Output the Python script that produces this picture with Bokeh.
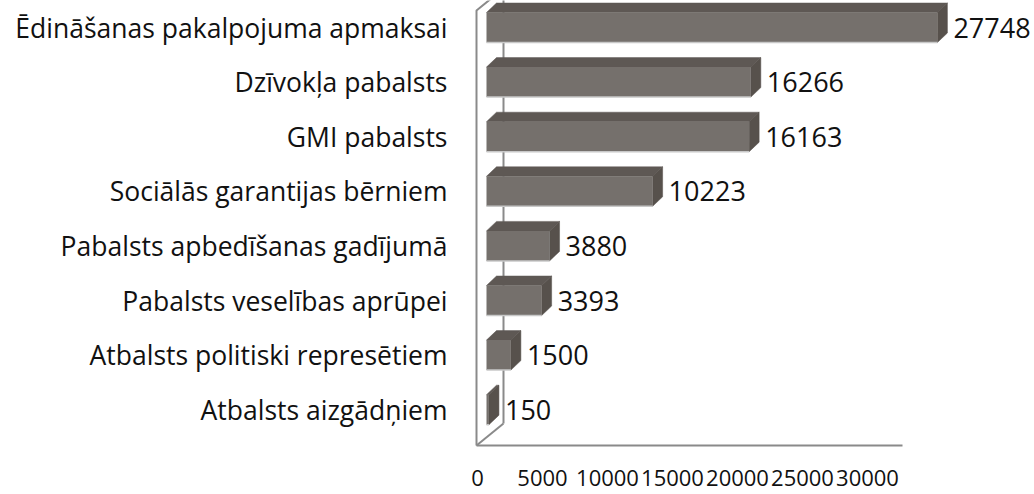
from bokeh.plotting import figure
from bokeh.models import Range1d, LinearAxis, FixedTicker, ColumnDataSource
from bokeh.core.properties import value
from bokeh.embed import file_html
from bokeh.resources import INLINE

# ---------------- data ----------------
categories = [
    "Ēdināšanas pakalpojuma apmaksai",
    "Dzīvokļa pabalsts",
    "GMI pabalsts",
    "Sociālās garantijas bērniem",
    "Pabalsts apbedīšanas gadījumā",
    "Pabalsts veselības aprūpei",
    "Atbalsts politiski represētiem",
    "Atbalsts aizgādņiem",
]
amounts = [27748, 16266, 16163, 10223, 3880, 3393, 1500, 150]
x_ticks = [0, 5000, 10000, 15000, 20000, 25000, 30000]

# ---------------- layout (figure pixels) ----------------
W, H = 1034, 494
FL, FR, FT, FB = 473, 1034, 0, 459          # frame edges
X_ZERO, PX_PER_UNIT = 486, 0.01625           # bar scale
T_ZERO, T_PX_PER_UNIT = 477, 390 / 30000     # tick-label scale (3-D projection)
ROW0, ROW_STEP = 27, 54.6                    # row centres
n = len(categories)

x_start = -(X_ZERO - FL) / PX_PER_UNIT
x_end = x_start + (FR - FL) / PX_PER_UNIT
t_start = -(T_ZERO - FL) / T_PX_PER_UNIT
t_end = t_start + (FR - FL) / T_PX_PER_UNIT
y_start = (n - 1) - (FB - ROW0) / ROW_STEP
y_end = (n - 1) + (ROW0 - FT) / ROW_STEP


def px_x(px):
    return x_start + (px - FL) / PX_PER_UNIT


def px_y(py):
    return (n - 1) - (py - ROW0) / ROW_STEP


p = figure(width=W, height=H, output_backend="svg", toolbar_location=None,
           x_range=Range1d(x_start, x_end), y_range=Range1d(y_start, y_end),
           x_axis_location=None, min_border_left=FL, min_border_right=0,
           min_border_top=FT, min_border_bottom=H - FB)
p.outline_line_color = None
p.grid.visible = False
p.background_fill_color = "white"
p.border_fill_color = "white"

# ---------------- 3-D walls ----------------
wall = "#8a8a8a"
fx, bx = px_x(476), px_x(503)
floor_y, back_floor_y = px_y(445), px_y(423)
top_y, back_top_y = px_y(10), px_y(-12)
p.line([bx, bx], [back_floor_y, back_top_y], line_color=wall, line_width=2)
p.line([fx, bx], [floor_y, back_floor_y], line_color=wall, line_width=2)
p.line([fx, fx, bx], [floor_y, top_y, back_top_y], line_color=wall, line_width=2)
p.line([fx, px_x(902)], [floor_y, floor_y], line_color=wall, line_width=2)

# ---------------- 3-D bars ----------------
rows = [n - 1 - i for i in range(n)]
h = 15 / ROW_STEP
dx = 10 / PX_PER_UNIT
dy = 9.5 / ROW_STEP

top_xs = [[0, v, v + dx, dx] for v in amounts]
top_ys = [[r + h, r + h, r + h + dy, r + h + dy] for r in rows]
side_xs = [[v, v + dx, v + dx, v] for v in amounts]
side_ys = [[r - h, r - h + dy, r + h + dy, r + h] for r in rows]

p.patches(top_xs, top_ys, fill_color="#5e5854", line_color="#5e5854", line_width=0.5)
p.patches(side_xs, side_ys, fill_color="#57514c", line_color="#57514c", line_width=0.5)
src = ColumnDataSource(dict(row=rows, amount=amounts, zero=[0] * n,
                            bot=[r - h for r in rows], top=[r + h for r in rows],
                            lab=[str(v) for v in amounts],
                            lx=[v + dx for v in amounts]))
p.quad(left="zero", right="amount", bottom="bot", top="top",
       source=src, fill_color="#75706c", line_color=None)
p.segment(x0="zero", x1="amount", y0="bot", y1="bot",
          source=src, line_color="#c8c8c8", line_width=1.5)

p.text(x="lx", y="row", text="lab", source=src, x_offset=6,
       text_align="left", text_baseline="middle",
       text_font=value("Open Sans"), text_font_size="27px", text_color="#111111")

# ---------------- axes ----------------
yax = p.yaxis[0]
yax.ticker = FixedTicker(ticks=rows)
yax.major_label_overrides = {r: c for r, c in zip(rows, categories)}
yax.axis_line_color = None
yax.major_tick_line_color = None
yax.minor_tick_line_color = None
yax.major_tick_out = 0
yax.major_tick_in = 0
yax.major_label_standoff = 26
yax.major_label_text_font = "Open Sans"
yax.major_label_text_font_size = "26.5px"
yax.major_label_text_color = "#111111"

p.extra_x_ranges = {"ticks": Range1d(t_start, t_end)}
xax = LinearAxis(x_range_name="ticks", ticker=FixedTicker(ticks=x_ticks))
xax.axis_line_color = None
xax.major_tick_line_color = None
xax.minor_tick_line_color = None
xax.major_tick_out = 0
xax.major_tick_in = 0
xax.major_label_standoff = 10
xax.major_label_text_font = "Open Sans"
xax.major_label_text_font_size = "22px"
xax.major_label_text_color = "#111111"
p.add_layout(xax, "below")

open("out.html", "w").write(file_html(p, INLINE))
